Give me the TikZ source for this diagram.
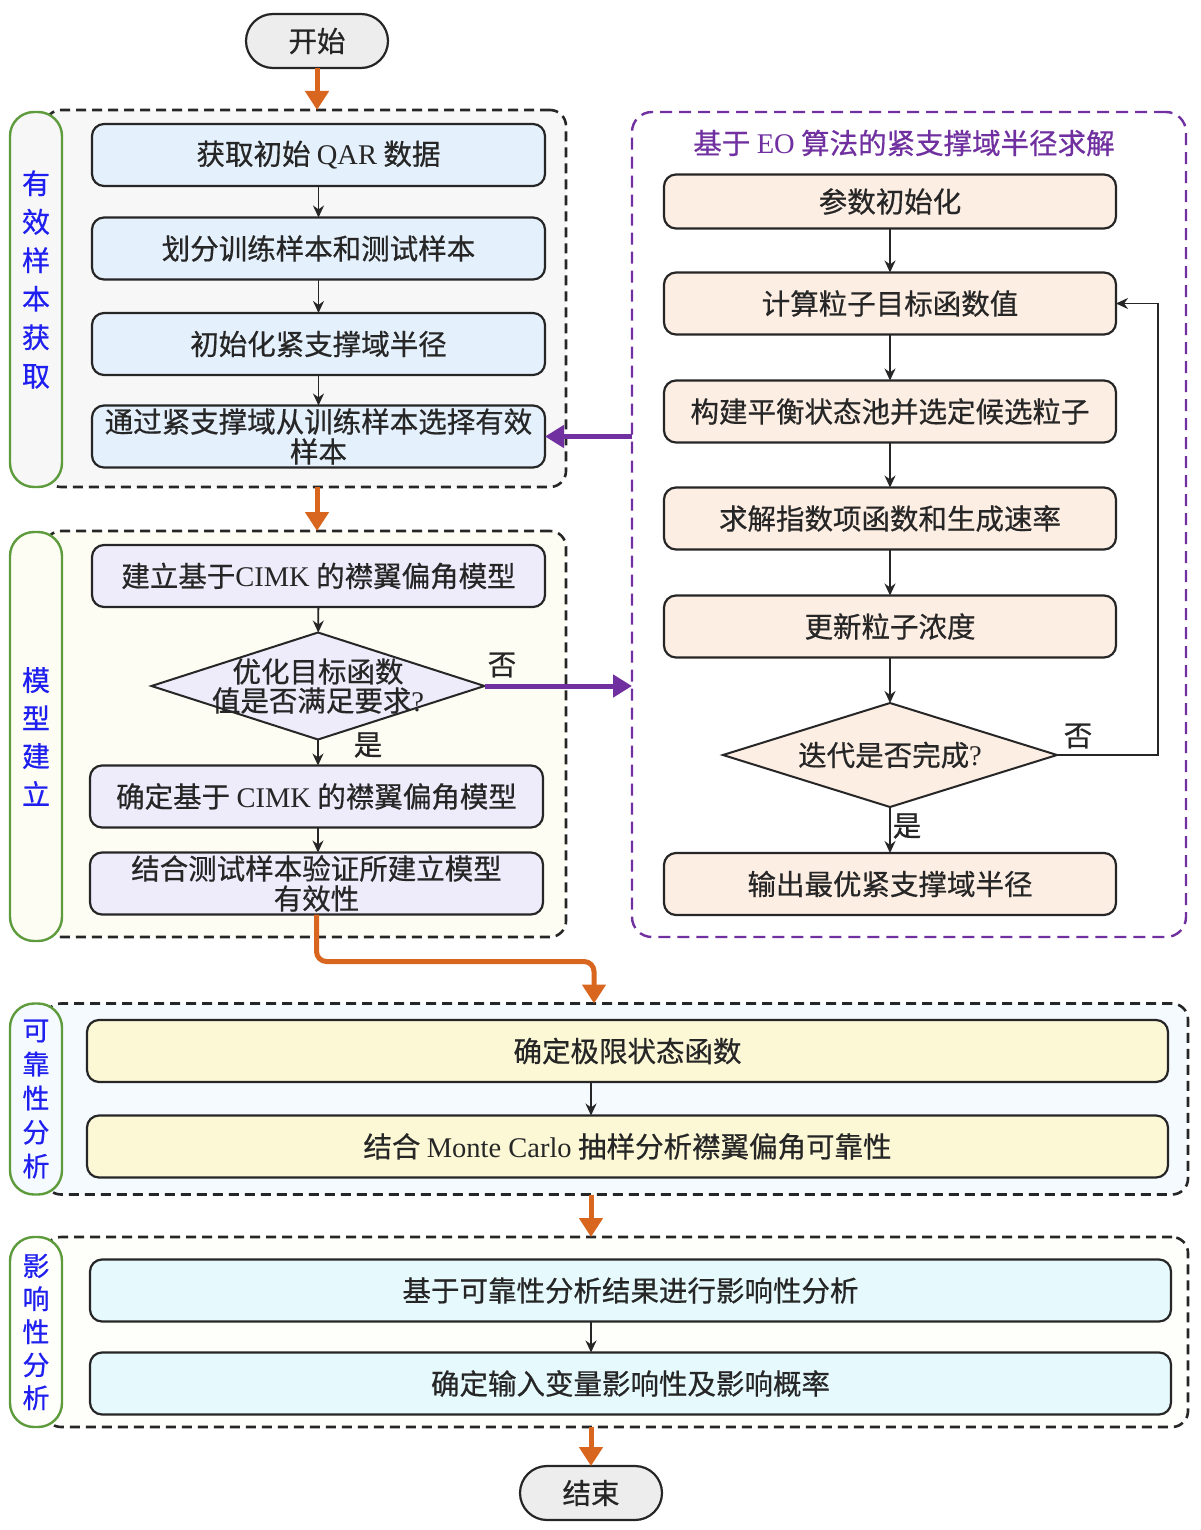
\documentclass[tikz,border=0pt]{standalone}
\usepackage{fontspec}
\setmainfont{Liberation Serif}
\newfontfamily\cjk[FakeBold=0.6]{Noto Sans CJK SC}
\usetikzlibrary{arrows.meta,shapes.geometric}

\definecolor{flowor}{HTML}{D9661F}
\definecolor{flowpu}{HTML}{7030A0}
\definecolor{stagegr}{HTML}{5E9B3C}
\definecolor{stagebl}{HTML}{1F1FF0}
\definecolor{boxbl}{HTML}{E4F0FB}
\definecolor{boxlv}{HTML}{EEEBFA}
\definecolor{boxpe}{HTML}{FDEEE4}
\definecolor{boxye}{HTML}{FCF8D6}
\definecolor{boxcy}{HTML}{E6FAFD}
\definecolor{termgr}{HTML}{EDEDED}
\definecolor{bgone}{HTML}{F7F7F7}
\definecolor{bgtwo}{HTML}{FDFDF3}
\definecolor{bgthree}{HTML}{F4FAFE}
\definecolor{bgfour}{HTML}{FEFEFA}

\begin{document}
\begin{tikzpicture}[x=1pt,y=-1pt,
  every node/.style={font=\cjk\fontsize{28.5}{30}\selectfont, text=black!85, inner sep=0pt, outer sep=0pt},
  box/.style={draw=black!85, line width=2.2pt, rounded corners=12pt, minimum height=62, align=center},
  term/.style={draw=black!85, fill=termgr, line width=2.2pt, rounded corners=27pt, minimum width=142, minimum height=54},
  frame/.style={draw=black!85, dash pattern=on 10pt off 6pt, line width=2.6pt, rounded corners=16pt},
  stage/.style={draw=stagegr, line width=2.4pt, rounded corners=24pt, minimum width=52, text=stagebl, align=center},
  dec/.style={diamond, draw=black!85, fill=boxlv, line width=2pt, aspect=3.2},
  flow/.style={-{Stealth[length=12pt,width=11pt]}, line width=1.8pt, black!85},
  big/.style={-{Triangle[length=19pt,width=23pt]}, line width=5pt, flowor},
  feed/.style={-{Triangle[length=19pt,width=22pt]}, line width=5pt, flowpu}]
\useasboundingbox (0,0) rectangle (1200,1530);

% frames
\node[frame, fill=bgone, minimum width=521, minimum height=377] (g1) at (305.5,298.5) {};
\node[frame, fill=bgtwo, minimum width=521, minimum height=406] (g2) at (305.5,734) {};
\node[frame, fill=bgthree, minimum width=1143, minimum height=191] (g3) at (616.5,1099) {};
\node[frame, fill=bgfour, minimum width=1143, minimum height=190] (g4) at (616.5,1332) {};
\node[frame, draw=flowpu, fill=white, dash pattern=on 12pt off 7pt, line width=2.4pt, rounded corners=20pt,
  minimum width=554, minimum height=825] (eo) at (909,524.5) {};

% stage labels
\node[stage, fill=bgone, minimum height=375,
  label={[text=stagebl, align=center, yshift=20pt, font=\cjk\fontsize{28}{38.5}\selectfont]center:有\\效\\样\\本\\获\\取}] (s1) at (36,299.5) {};
\node[stage, fill=bgtwo, minimum height=409, font=\cjk\fontsize{28}{38}\selectfont] (s2) at (36,736.5) {模\\型\\建\\立};
\node[stage, fill=bgthree, minimum height=191, font=\cjk\fontsize{27}{34}\selectfont] (s3) at (36,1099) {可\\靠\\性\\分\\析};
\node[stage, fill=bgfour, minimum height=190, font=\cjk\fontsize{27}{33}\selectfont] (s4) at (36,1332) {影\\响\\性\\分\\析};

% start / end
\node[term] (start) at (317,41) {开始};
\node[term] (stop) at (591,1493) {结束};

% sample group
\node[box, fill=boxbl, minimum width=453] (a1) at (318.5,155) {获取初始 {\rmfamily QAR} 数据};
\node[box, fill=boxbl, minimum width=453] (a2) at (318.5,248.5) {划分训练样本和测试样本};
\node[box, fill=boxbl, minimum width=453] (a3) at (318.5,344) {初始化紧支撑域半径};
\node[box, fill=boxbl, minimum width=453, text width=444] (a4) at (318.5,436.5) {通过紧支撑域从训练样本选择有效\\样本};

% model group
\node[box, fill=boxlv, minimum width=453] (b1) at (318.5,576) {建立基于{\rmfamily CIMK} 的襟翼偏角模型};
\node[dec, minimum width=333, minimum height=107,
  label={[align=center, font=\cjk\fontsize{28.5}{29}\selectfont]center:优化目标函数\\值是否满足要求{\rmfamily ?}}] (q1) at (318,686) {};
\node[box, fill=boxlv, minimum width=453] (b2) at (316.5,796.5) {确定基于 {\rmfamily CIMK} 的襟翼偏角模型};
\node[box, fill=boxlv, minimum width=453, text width=440] (b3) at (316.5,883.5) {结合测试样本验证所建立模型\\有效性};
\node (yes1) at (368,745) {是};
\node (no1) at (502,665) {否};

% EO group
\node[text=flowpu] (eotitle) at (904,143) {基于 {\rmfamily EO} 算法的紧支撑域半径求解};
\node[box, fill=boxpe, minimum width=452, minimum height=54] (f1) at (890,201.5) {参数初始化};
\node[box, fill=boxpe, minimum width=452] (f2) at (890,303.5) {计算粒子目标函数值};
\node[box, fill=boxpe, minimum width=452] (f3) at (890,411.5) {构建平衡状态池并选定候选粒子};
\node[box, fill=boxpe, minimum width=452] (f4) at (890,518.5) {求解指数项函数和生成速率};
\node[box, fill=boxpe, minimum width=452] (f5) at (890,626.5) {更新粒子浓度};
\node[dec, fill=boxpe, minimum width=334, minimum height=104] (q2) at (890,755) {迭代是否完成{\rmfamily ?}};
\node[box, fill=boxpe, minimum width=452] (f6) at (890,884) {输出最优紧支撑域半径};
\node (no2) at (1078,736) {否};
\node (yes2) at (907,826) {是};

% reliability group
\node[box, fill=boxye, minimum width=1081] (d1) at (627.5,1051) {确定极限状态函数};
\node[box, fill=boxye, minimum width=1081] (d2) at (627.5,1146.5) {结合 {\rmfamily Monte Carlo} 抽样分析襟翼偏角可靠性};

% influence group
\node[box, fill=boxcy, minimum width=1081] (e1) at (630.5,1290.5) {基于可靠性分析结果进行影响性分析};
\node[box, fill=boxcy, minimum width=1081] (e2) at (630.5,1383.5) {确定输入变量影响性及影响概率};

% connectors
\draw[flow] (a1) -- (a2);
\draw[flow] (a2) -- (a3);
\draw[flow] (a3) -- (a4);
\draw[flow] (b1) -- (q1);
\draw[flow] (q1) -- (b2.north -| q1.south);
\draw[flow] (b2.south -| q1.south) -- (b3.north -| q1.south);
\draw[flow] (f1) -- (f2);
\draw[flow] (f2) -- (f3);
\draw[flow] (f3) -- (f4);
\draw[flow] (f4) -- (f5);
\draw[flow] (f5) -- (q2);
\draw[flow] (q2) -- (f6);
\draw[flow] (q2.east) -- ++(101,0) |- (f2.east);
\draw[flow] (d1.south -| stop.north) -- (d2.north -| stop.north);
\draw[flow] (e1.south -| stop.north) -- (e2.north -| stop.north);

\draw[feed] (eo.west |- a4) -- (a4.east);
\draw[feed] (q1.east) -- (eo.west |- q1);

\draw[big] (start) -- (g1.north -| start.south);
\draw[big] (g1.south -| start.south) -- (g2.north -| start.south);
\draw[big, rounded corners=10pt] (b3.south) -- ++(0,47) -| ([xshift=3pt]g3.north -| stop.north);
\draw[big] (g3.south -| stop.north) -- (g4.north -| stop.north);
\draw[big] (g4.south -| stop.north) -- (stop);
\end{tikzpicture}
\end{document}
